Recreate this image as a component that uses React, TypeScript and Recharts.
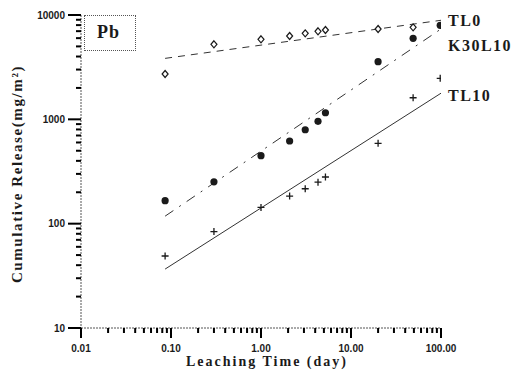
import { ScatterChart, Scatter, XAxis, YAxis } from 'recharts'

// leaching time (day) of each sampling
const times = [0.086, 0.3, 1.0, 2.08, 3.1, 4.3, 5.2, 20, 49, 98]

// cumulative release (mg/m2)
const tl0 = [2720, 5240, 5850, 6290, 6670, 6980, 7180, 7340, 7620]
const k30l10 = [166, 252, 448, 620, 795, 957, 1157, 3570, 5970, 7960]
const tl10 = [49, 84, 143, 184, 216, 250, 280, 589, 1610, 2470]

// fitted lines, start and end of each
const fitTimes = [0.086, 100]
const tl0Fit = [3840, 8900]
const k30l10Fit = [118, 7350]
const tl10Fit = [36.7, 1780]

const yMajor = [10, 100, 1000, 10000]
const xMajor = [0.01, 0.1, 1, 10, 100]
const minorSteps = [2, 3, 4, 5, 6, 7, 8, 9]

const withMinor = (majors: number[]) => {
  const out: number[] = []
  majors.forEach((m, i) => {
    out.push(m)
    if (i < majors.length - 1) minorSteps.forEach((s) => out.push(+(m * s).toPrecision(3)))
  })
  return out
}
const yTicks = withMinor(yMajor)
const xTicks = withMinor(xMajor)

const toPoints = (xs: number[], ys: number[]) => ys.map((v, i) => ({ t: xs[i], v }))

const ink = '#1a1a1a'
const tickInk = '#000'
const axisGrey = '#555'
const serif = '"Liberation Serif", "DejaVu Serif", serif'
const sans = '"Liberation Sans", Arial, sans-serif'

// x, y arrive at the outer end of the short tick line; majors get an extension
const YTick = (props: any) => {
  const { x, y, payload } = props
  if (!yMajor.includes(payload.value)) return <g />
  return (
    <g>
      <rect x={x - 8} y={y - 1} width={8} height={2} fill={tickInk} />
      <text x={x - 11} y={y} dy={3.5} textAnchor="end" fontSize={10} fontWeight="bold" fontFamily={sans} fill={ink}>
        {payload.value}
      </text>
    </g>
  )
}

const XTick = (props: any) => {
  const { x, y, payload } = props
  if (!xMajor.includes(payload.value)) return <g />
  return (
    <g>
      <rect x={x - 1} y={y} width={2} height={5} fill={tickInk} />
      <text x={x} y={y + 19} textAnchor="middle" fontSize={10} fontWeight="bold" fontFamily={sans} fill={ink}>
        {payload.value.toFixed(2)}
      </text>
    </g>
  )
}

const Diamond = (p: any) => (
  <path
    d={`M${p.cx},${p.cy - 3.5}L${p.cx + 3},${p.cy}L${p.cx},${p.cy + 3.5}L${p.cx - 3},${p.cy}Z`}
    fill="#fff"
    stroke={ink}
    strokeWidth={1.2}
  />
)
const Dot = (p: any) => <circle cx={p.cx} cy={p.cy} r={3.6} fill={ink} />
const Plus = (p: any) => (
  <path
    d={`M${p.cx - 3.5},${p.cy}H${p.cx + 3.5}M${p.cx},${p.cy - 3.5}V${p.cy + 3.5}`}
    stroke={ink}
    strokeWidth={1.3}
  />
)
const NoMark = () => <g />

const seriesLabel = { position: 'absolute' as const, fontFamily: serif, fontWeight: 'bold', fontSize: 16, letterSpacing: 1.5, color: ink, lineHeight: '16px' }

export default function App() {
  return (
    <div style={{ position: 'absolute', left: 0, top: 0, width: 515, height: 376, background: '#fff' }}>
      <ScatterChart width={515} height={376} margin={{ top: 15, right: 74, left: 20, bottom: 18 }}>
        <XAxis
          type="number"
          dataKey="t"
          scale="log"
          domain={[0.01, 100]}
          ticks={xTicks}
          interval={0}
          tick={<XTick />}
          tickLine={{ stroke: tickInk, strokeWidth: 2 }}
          tickSize={5}
          tickMargin={0}
          height={30}
          axisLine={{ stroke: axisGrey, strokeDasharray: '2 1' }}
          allowDataOverflow
        />
        <YAxis
          type="number"
          dataKey="v"
          scale="log"
          domain={[10, 10000]}
          ticks={yTicks}
          interval={0}
          tick={<YTick />}
          tickLine={{ stroke: tickInk, strokeWidth: 2 }}
          tickSize={5}
          tickMargin={0}
          width={61}
          axisLine={{ stroke: axisGrey, strokeDasharray: '2 1' }}
          allowDataOverflow
        />
        <Scatter data={toPoints(fitTimes, tl0Fit)} line={{ stroke: '#333', strokeDasharray: '7 6' }} shape={<NoMark />} isAnimationActive={false} />
        <Scatter data={toPoints(fitTimes, k30l10Fit)} line={{ stroke: '#333', strokeDasharray: '10 7 2 7' }} shape={<NoMark />} isAnimationActive={false} />
        <Scatter data={toPoints(fitTimes, tl10Fit)} line={{ stroke: '#333' }} shape={<NoMark />} isAnimationActive={false} />
        <Scatter data={toPoints(times, tl0)} shape={<Diamond />} isAnimationActive={false} />
        <Scatter data={toPoints(times, k30l10)} shape={<Dot />} isAnimationActive={false} />
        <Scatter data={toPoints(times, tl10)} shape={<Plus />} isAnimationActive={false} />
      </ScatterChart>

      <div style={{ position: 'absolute', left: 84, top: 15, width: 52, height: 36, border: '1px dotted #555', boxSizing: 'border-box' }} />
      <div style={{ ...seriesLabel, left: 97, top: 24, fontSize: 18, letterSpacing: 1 }}>Pb</div>

      <div style={{ ...seriesLabel, left: 448, top: 13 }}>TL0</div>
      <div style={{ ...seriesLabel, left: 448, top: 38 }}>K30L10</div>
      <div style={{ ...seriesLabel, left: 448, top: 88 }}>TL10</div>

      <div
        style={{
          position: 'absolute', left: 267, top: 362, transform: 'translate(-50%, -50%)', whiteSpace: 'nowrap',
          fontFamily: serif, fontWeight: 'bold', fontSize: 14, letterSpacing: 2, color: ink,
        }}
      >
        Leaching Time (day)
      </div>
      <div
        style={{
          position: 'absolute', left: 17, top: 174, transform: 'translate(-50%, -50%) rotate(-90deg)', whiteSpace: 'nowrap',
          fontFamily: serif, fontWeight: 'bold', fontSize: 15, letterSpacing: 1.6, color: ink,
        }}
      >
        Cumulative Release(mg/m²)
      </div>
    </div>
  )
}
